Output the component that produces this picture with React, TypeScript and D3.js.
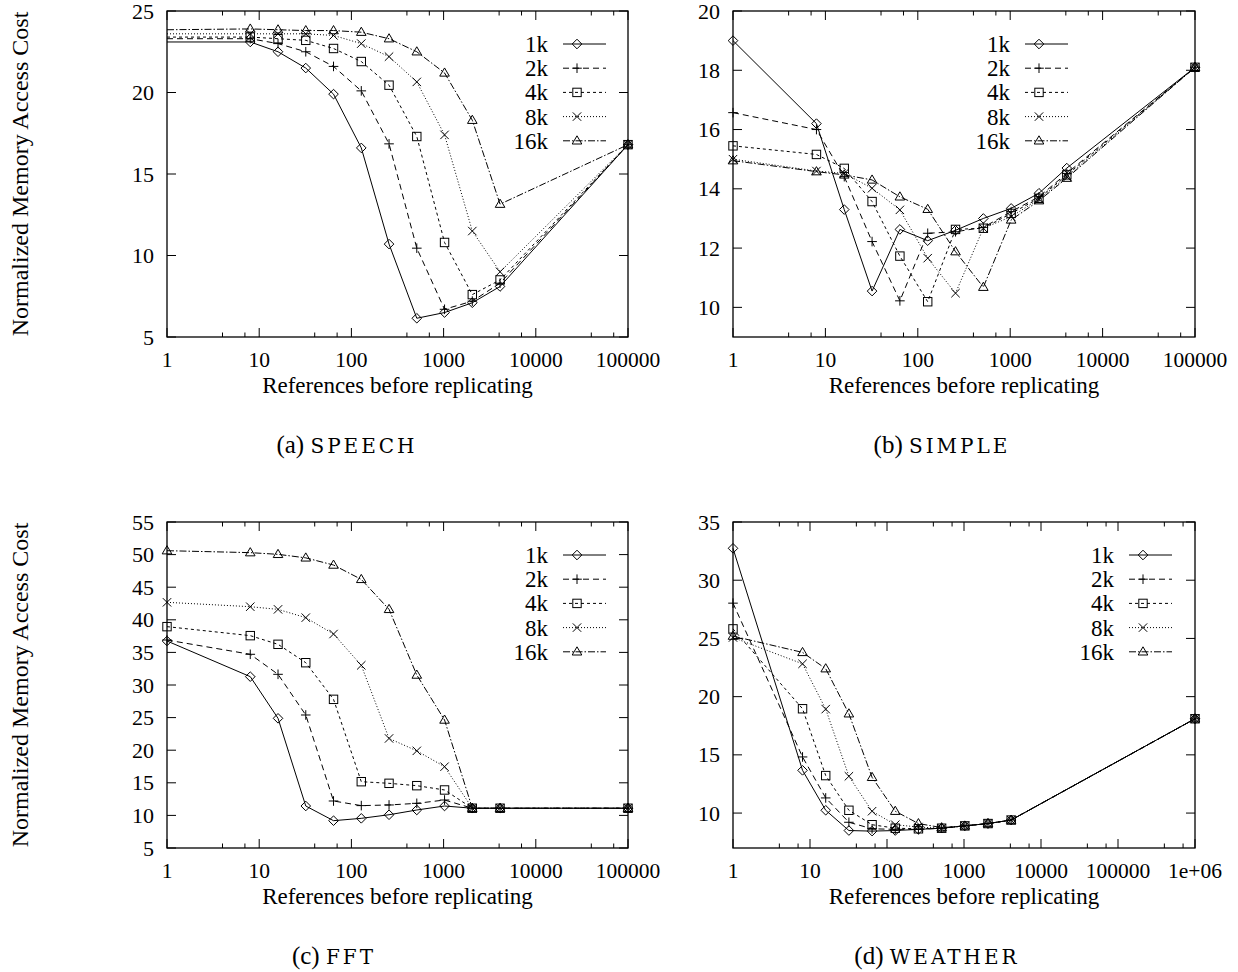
import React from "react";
import * as d3 from "d3";

// ---------- data ----------
const seriesNames = ["1k", "2k", "4k", "8k", "16k"];
const refsX = [1, 8, 16, 32, 64, 128, 256, 512, 1024, 2048, 4096, 100000];
const refsXWeather = [1, 8, 16, 32, 64, 128, 256, 512, 1024, 2048, 4096, 1000000];

const speech1k = [23.1, 23.1, 22.5, 21.5, 19.9, 16.6, 10.7, 6.15, 6.5, 7.1, 8.1, 16.8];
const speech2k = [23.3, 23.3, 23.0, 22.5, 21.6, 20.1, 16.85, 10.45, 6.7, 7.2, 8.3, 16.8];
const speech4k = [23.4, 23.4, 23.3, 23.2, 22.7, 21.9, 20.45, 17.3, 10.8, 7.6, 8.5, 16.8];
const speech8k = [23.6, 23.6, 23.6, 23.6, 23.5, 23.0, 22.2, 20.65, 17.4, 11.5, 9.0, 16.8];
const speech16k = [23.85, 23.9, 23.85, 23.8, 23.8, 23.7, 23.3, 22.5, 21.2, 18.3, 13.15, 16.8];

const simple1k = [19.0, 16.2, 13.3, 10.55, 12.63, 12.25, 12.6, 13.0, 13.34, 13.85, 14.7, 18.1];
const simple2k = [16.57, 16.0, 14.41, 12.22, 10.22, 12.5, 12.55, 12.7, 13.23, 13.73, 14.52, 18.1];
const simple4k = [15.45, 15.16, 14.69, 13.57, 11.73, 10.19, 12.63, 12.67, 13.17, 13.68, 14.47, 18.1];
const simple8k = [15.0, 14.6, 14.52, 14.02, 13.29, 11.66, 10.48, 12.67, 13.06, 13.65, 14.41, 18.1];
const simple16k = [14.95, 14.58, 14.47, 14.3, 13.73, 13.31, 11.88, 10.68, 12.95, 13.6, 14.36, 18.1];

const fft1k = [36.75, 31.28, 24.89, 11.44, 9.19, 9.55, 10.1, 10.83, 11.44, 11.1, 11.1, 11.1];
const fft2k = [36.9, 34.71, 31.64, 25.4, 12.21, 11.5, 11.6, 11.85, 12.36, 11.1, 11.1, 11.1];
const fft4k = [38.95, 37.57, 36.24, 33.42, 27.8, 15.17, 14.92, 14.56, 13.9, 11.1, 11.1, 11.1];
const fft8k = [42.68, 42.01, 41.6, 40.33, 37.82, 33.02, 21.8, 19.9, 17.47, 11.1, 11.1, 11.1];
const fft16k = [50.6, 50.3, 50.04, 49.5, 48.4, 46.2, 41.6, 31.53, 24.63, 11.1, 11.1, 11.1];

const weather1k = [32.74, 13.67, 10.24, 8.5, 8.45, 8.5, 8.6, 8.7, 8.9, 9.1, 9.4, 18.1];
const weather2k = [28.03, 14.82, 11.3, 9.21, 8.65, 8.6, 8.6, 8.7, 8.9, 9.1, 9.4, 18.1];
const weather4k = [25.82, 18.96, 13.22, 10.24, 9.0, 8.7, 8.65, 8.7, 8.9, 9.1, 9.4, 18.1];
const weather8k = [25.08, 22.82, 18.93, 13.16, 10.16, 9.0, 8.8, 8.7, 8.9, 9.1, 9.4, 18.1];
const weather16k = [25.2, 23.8, 22.4, 18.53, 13.07, 10.16, 9.1, 8.75, 8.9, 9.1, 9.4, 18.1];

const xTicks5 = [1, 10, 100, 1000, 10000, 100000];
const xTickLabels5 = ["1", "10", "100", "1000", "10000", "100000"];
const xTicks6 = [1, 10, 100, 1000, 10000, 100000, 1000000];
const xTickLabels6 = ["1", "10", "100", "1000", "10000", "100000", "1e+06"];

const speechYTicks = [5, 10, 15, 20, 25];
const simpleYTicks = [10, 12, 14, 16, 18, 20];
const fftYTicks = [5, 10, 15, 20, 25, 30, 35, 40, 45, 50, 55];
const weatherYTicks = [10, 15, 20, 25, 30, 35];

const captionLetters = ["(a)", "(b)", "(c)", "(d)"];
const captionNames = ["SPEECH", "SIMPLE", "FFT", "WEATHER"];

const xTitle = "References before replicating";
const yTitle = "Normalized Memory Access Cost";

// ---------- styles ----------
const dashes = [null, "6,4", "3,3", "1,2", "7,2,1.5,2"];
const FONT = "'Liberation Serif', 'Times New Roman', serif";

type PanelCfg = {
  left: number; right: number; top: number; bottom: number;
  xs: number[]; xDomain: [number, number]; xTicks: number[]; xLabels: string[];
  yDomain: [number, number]; yTicks: number[];
  series: number[][];
  legendTextEnd: number; // offset from right
  hideFirstMarker: boolean;
  caption: number;
  captionX: number;
};

const panels: PanelCfg[] = [
  {
    left: 167, right: 628, top: 11, bottom: 337,
    xs: refsX, xDomain: [1, 100000], xTicks: xTicks5, xLabels: xTickLabels5,
    yDomain: [5, 25], yTicks: speechYTicks,
    series: [speech1k, speech2k, speech4k, speech8k, speech16k],
    legendTextEnd: 80, hideFirstMarker: true, caption: 0, captionX: 347,
  },
  {
    left: 733, right: 1195, top: 11, bottom: 337,
    xs: refsX, xDomain: [1, 100000], xTicks: xTicks5, xLabels: xTickLabels5,
    yDomain: [9, 20], yTicks: simpleYTicks,
    series: [simple1k, simple2k, simple4k, simple8k, simple16k],
    legendTextEnd: 185, hideFirstMarker: false, caption: 1, captionX: 942,
  },
  {
    left: 167, right: 628, top: 522, bottom: 848,
    xs: refsX, xDomain: [1, 100000], xTicks: xTicks5, xLabels: xTickLabels5,
    yDomain: [5, 55], yTicks: fftYTicks,
    series: [fft1k, fft2k, fft4k, fft8k, fft16k],
    legendTextEnd: 80, hideFirstMarker: false, caption: 2, captionX: 334,
  },
  {
    left: 733, right: 1195, top: 522, bottom: 848,
    xs: refsXWeather, xDomain: [1, 1000000], xTicks: xTicks6, xLabels: xTickLabels6,
    yDomain: [7, 35], yTicks: weatherYTicks,
    series: [weather1k, weather2k, weather4k, weather8k, weather16k],
    legendTextEnd: 81, hideFirstMarker: false, caption: 3, captionX: 937,
  },
];

function Marker({ kind, x, y }: { kind: number; x: number; y: number }) {
  const s = 4.8;
  const common = { fill: "none", stroke: "#000", strokeWidth: 1 };
  switch (kind) {
    case 0:
      return <path d={`M${x},${y - s}L${x + s},${y}L${x},${y + s}L${x - s},${y}Z`} {...common} />;
    case 1:
      return <path d={`M${x - s},${y}H${x + s}M${x},${y - s}V${y + s}`} {...common} />;
    case 2:
      return <rect x={x - 4.2} y={y - 4.2} width={8.4} height={8.4} {...common} />;
    case 3:
      return <path d={`M${x - 4.2},${y - 4.2}L${x + 4.2},${y + 4.2}M${x - 4.2},${y + 4.2}L${x + 4.2},${y - 4.2}`} {...common} />;
    default:
      return <path d={`M${x},${y - 5}L${x + 4.8},${y + 3.2}L${x - 4.8},${y + 3.2}Z`} {...common} />;
  }
}

function Panel({ p }: { p: PanelCfg }) {
  const x = d3.scaleLog().domain(p.xDomain).range([p.left, p.right]);
  const y = d3.scaleLinear().domain(p.yDomain).range([p.bottom, p.top]);
  const line = d3
    .line<[number, number]>()
    .x((d) => x(d[0]))
    .y((d) => y(d[1]));

  const minor: number[] = [];
  for (let e = 0; Math.pow(10, e) < p.xDomain[1]; e++) {
    [4, 7].forEach((m) => minor.push(m * Math.pow(10, e)));
  }
  const midX = (p.left + p.right) / 2;
  const legendY0 = p.top + 33;
  const legendStep = 24.2;
  const tEnd = p.right - p.legendTextEnd;

  return (
    <g>
      {/* ticks */}
      {p.xTicks.map((t, i) => (
        <g key={"xt" + i}>
          <line x1={x(t)} x2={x(t)} y1={p.bottom} y2={p.bottom - 9} stroke="#000" />
          <line x1={x(t)} x2={x(t)} y1={p.top} y2={p.top + 9} stroke="#000" />
          <text x={x(t)} y={p.bottom + 30} textAnchor="middle" fontSize={21.5} fontFamily={FONT}>
            {p.xLabels[i]}
          </text>
        </g>
      ))}
      {minor.map((t, i) => (
        <g key={"mx" + i}>
          <line x1={x(t)} x2={x(t)} y1={p.bottom} y2={p.bottom - 4.5} stroke="#000" />
          <line x1={x(t)} x2={x(t)} y1={p.top} y2={p.top + 4.5} stroke="#000" />
        </g>
      ))}
      {p.yTicks.map((t, i) => (
        <g key={"yt" + i}>
          <line x1={p.left} x2={p.left + 9} y1={y(t)} y2={y(t)} stroke="#000" />
          <line x1={p.right} x2={p.right - 9} y1={y(t)} y2={y(t)} stroke="#000" />
          <text x={p.left - 13} y={y(t) + 7.5} textAnchor="end" fontSize={22} fontFamily={FONT}>
            {t}
          </text>
        </g>
      ))}
      {/* series */}
      {p.series.map((vals, si) => {
        const pts: [number, number][] = vals.map((v, i) => [p.xs[i], v]);
        return (
          <g key={"s" + si}>
            <path
              d={line(pts) || ""}
              fill="none"
              stroke="#000"
              strokeWidth={1}
              strokeDasharray={dashes[si] || undefined}
            />
            {pts.map((d, i) =>
              p.hideFirstMarker && i === 0 ? null : (
                <Marker key={i} kind={si} x={x(d[0])} y={y(d[1])} />
              )
            )}
          </g>
        );
      })}
      {/* legend */}
      {seriesNames.map((n, si) => {
        const ly = legendY0 + si * legendStep;
        return (
          <g key={"lg" + si}>
            <text x={tEnd} y={ly + 8} textAnchor="end" fontSize={23} fontFamily={FONT}>
              {n}
            </text>
            <line
              x1={tEnd + 15}
              x2={tEnd + 58}
              y1={ly}
              y2={ly}
              stroke="#000"
              strokeDasharray={dashes[si] || undefined}
            />
            <Marker kind={si} x={tEnd + 29} y={ly} />
          </g>
        );
      })}
      {/* frame */}
      <rect
        x={p.left}
        y={p.top}
        width={p.right - p.left}
        height={p.bottom - p.top}
        fill="none"
        stroke="#000"
        strokeWidth={1.3}
      />
      {/* titles */}
      <text x={midX} y={p.bottom + 56} textAnchor="middle" fontSize={23} fontFamily={FONT}>
        {xTitle}
      </text>
      <text x={p.captionX} y={p.bottom + 116} textAnchor="middle" fontSize={25} fontFamily={FONT}>
        <tspan>{captionLetters[p.caption]} </tspan>
        <tspan fontFamily="'DejaVu Serif', serif" fontSize={20} letterSpacing={3}>
          {captionNames[p.caption]}
        </tspan>
      </text>
    </g>
  );
}

export default function App() {
  return (
    <svg width={1238} height={972} style={{ display: "block", position: "absolute", left: 0, top: 0 }}>
      <rect width={1238} height={972} fill="#fff" />
      {panels.map((p, i) => (
        <Panel key={i} p={p} />
      ))}
      {[174, 685].map((cy, i) => (
        <text
          key={"yt" + i}
          transform={`translate(28,${cy}) rotate(-90)`}
          textAnchor="middle"
          fontSize={24}
          fontFamily={FONT}
        >
          {yTitle}
        </text>
      ))}
    </svg>
  );
}
